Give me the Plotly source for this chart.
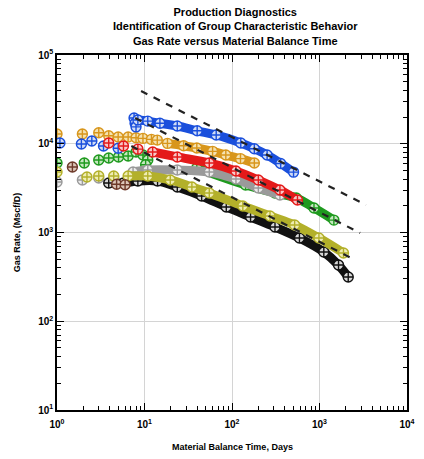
import plotly.graph_objects as go

# ---------------- data ----------------
# Early (sparse) points per group: material balance time (days), gas rate (Mscf/D)
blue_early_t = [1.08, 1.9, 2.5, 3.4, 5.0, 7.6, 7.8, 8.0]
blue_early_q = [10190, 9950, 10740, 9420, 8900, 19500, 17000, 15500]
blue_t = [8.4, 10.9, 15, 23.7, 40, 66, 126, 180, 252, 360, 505]
blue_q = [18500, 18000, 17000, 15840, 14000, 12560, 10190, 8800, 7460, 6000, 4790]

orange_early_t = [1.0, 1.95, 3.0, 3.9, 5.0, 6.5, 8.0, 9.6, 12, 14]
orange_early_q = [12900, 12900, 13300, 12300, 11900, 11900, 11700, 11500, 11200, 11000]
orange_t = [18.3, 28, 39.6, 60, 85, 125, 180]
orange_q = [10100, 9500, 8960, 8200, 7460, 6800, 6070]

red_early_t = [3.9, 5.75, 8.4]
red_early_q = [10190, 9420, 8700]
red_t = [12.4, 23.7, 55, 111, 200, 353, 560]
red_q = [8070, 7100, 6070, 4930, 3900, 3010, 2320]

green_early_t = [1.0, 2.05, 3.0, 3.9, 5.05, 6.5, 8.0, 9.6, 10.9, 10.3]
green_early_q = [6070, 6070, 6560, 6920, 7100, 7280, 8070, 7460, 6560, 5800]
green_t = [39.6, 143, 310, 543, 865, 1460]
green_q = [5330, 3430, 2790, 2450, 1890, 1380]

gray_early_t = [1.0, 1.95, 3.0, 4.45]
gray_early_q = [3710, 3910, 4110, 4220]
gray_t = [7.4, 10.9, 23.7, 55, 111, 200, 353]
gray_q = [4810, 5060, 5060, 4810, 4010, 3170, 2650]

olive_early_t = [1.0, 2.2, 3.0, 4.45]
olive_early_q = [4810, 4220, 4330, 4330]
olive_t = [6.5, 10.9, 19.7, 34.8, 55, 133, 272, 520, 985, 1880]
olive_q = [4330, 4330, 3910, 3260, 2790, 1990, 1535, 1215, 867, 588]

black_t = [3.9, 5.75, 8.4, 14.1, 23.7, 45, 86, 163, 310, 590, 1120, 1650, 2130]
black_q = [3610, 3610, 3800, 3800, 3260, 2580, 1940, 1495, 1155, 867, 603, 430, 315]

brown_t = [1.5, 4.8, 6.0]
brown_q = [5470, 3500, 3450]

# Dashed trend lines (start / end points)
trend1_t = [9.14, 3396]
trend1_q = [39300, 2043]
trend2_t = [7.83, 2910]
trend2_q = [19500, 986]
trend3_t = [7.07, 2558]
trend3_q = [9440, 490]

x_tick_vals = [1, 10, 100, 1000, 10000]
x_tick_text = ["10<sup>0</sup>", "10<sup>1</sup>", "10<sup>2</sup>", "10<sup>3</sup>", "10<sup>4</sup>"]
y_tick_vals = [10, 100, 1000, 10000, 100000]
y_tick_text = ["10<sup>1</sup>", "10<sup>2</sup>", "10<sup>3</sup>", "10<sup>4</sup>", "10<sup>5</sup>"]

title_lines = ["Production Diagnostics",
               "Identification of Group Characteristic Behavior",
               "Gas Rate versus Material Balance Time"]
x_title = "Material Balance Time, Days"
y_title = "Gas Rate, (Mscf/D)"

# ---------------- styles ----------------
groups = [
    # (early_t, early_q, band_t, band_q, line colour, pale fill)
    (green_early_t, green_early_q, green_t, green_q, "#1f9a1f", "#c6e8c0"),
    (gray_early_t, gray_early_q, gray_t, gray_q, "#9a9a9a", "#ececec"),
    (orange_early_t, orange_early_q, orange_t, orange_q, "#d8961c", "#f5e2b0"),
    (blue_early_t, blue_early_q, blue_t, blue_q, "#1a4fdc", "#d0dcf6"),
    (red_early_t, red_early_q, red_t, red_q, "#e41a1a", "#f8c8c8"),
    ([], [], black_t, black_q, "#111111", "#d8d8d8"),
    (olive_early_t, olive_early_q, olive_t, olive_q, "#b3b02a", "#efedb4"),
]

FONT = "Liberation Sans, Arial, sans-serif"

fig = go.Figure()

for et, eq, bt, bq, col, pale in groups:
    if et:
        fig.add_trace(go.Scatter(
            x=et, y=eq, mode="markers",
            marker=dict(symbol="circle-cross", size=10, color=pale,
                        line=dict(color=col, width=1.4)),
            hoverinfo="skip"))
    fig.add_trace(go.Scatter(
        x=bt, y=bq, mode="lines+markers",
        line=dict(color=col, width=9, shape="spline"),
        marker=dict(symbol="circle-cross", size=10, color=pale,
                    line=dict(color=col, width=1.4)),
        hoverinfo="skip"))

fig.add_trace(go.Scatter(
    x=brown_t, y=brown_q, mode="markers",
    marker=dict(symbol="circle-cross", size=10, color="#dcc6b8",
                line=dict(color="#6e3a2a", width=1.4)),
    hoverinfo="skip"))

for tt, tq in [(trend1_t, trend1_q), (trend2_t, trend2_q), (trend3_t, trend3_q)]:
    fig.add_trace(go.Scatter(
        x=tt, y=tq, mode="lines",
        line=dict(color="#222222", width=2.2, dash="7px,7px"),
        hoverinfo="skip"))

minor_x = [m * 10 ** d for d in range(0, 4) for m in range(2, 10)]
minor_y = [m * 10 ** d for d in range(1, 5) for m in range(2, 10)]

axis_common = dict(
    type="log", showline=True, linecolor="black", linewidth=1.5,
    mirror="allticks", ticks="inside", ticklen=7, tickwidth=1.2, tickcolor="black",
    showgrid=True, gridcolor="#d4d4d4", gridwidth=1, zeroline=False,
    tickfont=dict(family=FONT, size=10, color="black", weight="bold"),
)

fig.update_xaxes(
    range=[0, 4], tickmode="array", tickvals=x_tick_vals, ticktext=x_tick_text,
    ticklabelstandoff=4,
    minor=dict(tickmode="array", tickvals=minor_x, ticks="inside", ticklen=4,
               tickcolor="black", tickwidth=1, showgrid=False),
    **axis_common)
fig.update_yaxes(
    range=[1, 5], tickmode="array", tickvals=y_tick_vals, ticktext=y_tick_text,
    minor=dict(tickmode="array", tickvals=minor_y, ticks="inside", ticklen=4,
               tickcolor="black", tickwidth=1, showgrid=False),
    **axis_common)

fig.update_layout(
    width=424, height=459,
    margin=dict(l=57, r=9, t=55, b=49),
    paper_bgcolor="white", plot_bgcolor="white",
    showlegend=False,
    annotations=[
        dict(text="<br>".join(title_lines), xref="paper", yref="paper",
             x=0.51, y=1.143, xanchor="center", yanchor="top", showarrow=False,
             font=dict(family=FONT, size=11, color="black", weight="bold")),
        dict(text=x_title, xref="paper", yref="paper",
             x=0.5, y=-0.105, xanchor="center", yanchor="middle", showarrow=False,
             font=dict(family=FONT, size=9, color="black", weight="bold")),
        dict(text=y_title, xref="paper", yref="paper",
             x=-0.115, y=0.5, xanchor="center", yanchor="middle", showarrow=False, textangle=-90,
             font=dict(family=FONT, size=9, color="black", weight="bold")),
    ],
)

fig.write_html("out.html")
